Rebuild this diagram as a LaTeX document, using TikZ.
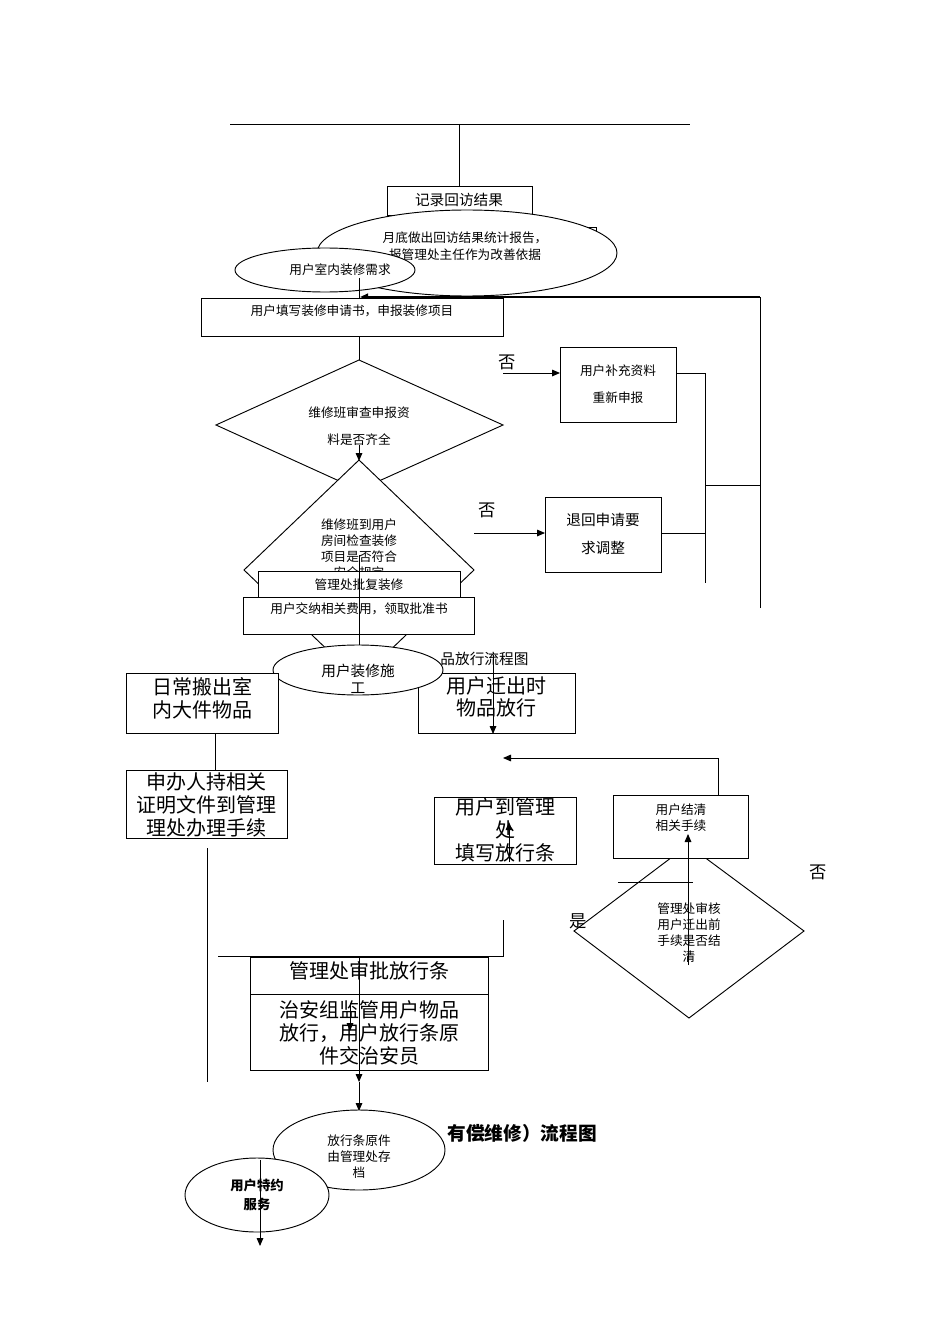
\documentclass[tikz,border=0pt]{standalone}
\usepackage{fontspec}
\setmainfont{Noto Sans CJK SC}
\usetikzlibrary{arrows.meta}
\begin{document}
\begin{tikzpicture}[x=0.75pt,y=-0.75pt,line width=0.7pt,
  sm/.style={font=\fontsize{9.5}{12}\selectfont,align=center,inner sep=0pt},
  lg/.style={font=\fontsize{15}{17}\selectfont,align=center,inner sep=0pt},
  arr/.style={-{Triangle[length=6pt,width=5pt]}}]
\useasboundingbox (0,0) rectangle (950,1344);
% top
\coordinate (t1) at (230,124); \coordinate (t2) at (690,124);
\draw (t1) -- (t2);
\coordinate (tm) at (459,124);
\draw (tm) -- (459,186);
\draw (580,227) -- (596,227) -- (596,240);
\draw[fill=white] (387,186) rectangle (532,215);
\node[sm,font=\fontsize{11}{13}\selectfont] (rec) at (459,200) {记录回访结果};
\draw[fill=white] (467,253) ellipse [x radius=150,y radius=43];
\node[sm] (rep) at (465,238) {月底做出回访结果统计报告，};
\node[sm] (rep2) at (465,255) {报管理处主任作为改善依据};
\draw[fill=white] (325,270) ellipse [x radius=90,y radius=22];
\node[sm] (need) at (340,270) {用户室内装修需求};
\draw (359,278) -- (359,298);
% right loop
\coordinate (r1) at (760,297); \coordinate (r2) at (760,608);
\draw (r2) -- (r1);
\draw[arr,line width=1.4pt] (r1) -- (360,297);
\draw[fill=white] (201,298) rectangle (503,336);
\node[sm] (fill) at (352,311) {用户填写装修申请书，申报装修项目};
\draw (359,336) -- (359,360);
% diamond 1
\draw[fill=white] (359,360) -- (503,425) -- (359,490) -- (216,425) -- cycle;
\node[sm] (d1) at (359,426) {维修班审查申报资\\[8pt]料是否齐全};
% diamond 2
\draw[fill=white] (359,460) -- (474,570) -- (359,680) -- (244,570) -- cycle;
\draw[arr] (359,445) -- (359,461);
\node[sm,align=center] (d2) at (359,549) {维修班到用户\\房间检查装修\\项目是否符合\\安全规定};
% no branch 1
\node[font=\fontsize{13}{15}\selectfont,inner sep=0pt] (no1) at (507,362) {否};
\coordinate (n1) at (503,373);
\draw[fill=white] (560,347) rectangle (676,422);
\node[sm] (sup) at (618,384) {用户补充资料\\[8pt]重新申报};
\draw[arr] (n1) -- (560,373);
\draw (676,373) -- (705,373) -- (705,583);
\draw (705,485) -- (760,485);
% no branch 2
\node[font=\fontsize{13}{15}\selectfont,inner sep=0pt] (no2) at (487,510) {否};
\coordinate (n2) at (474,533);
\draw[fill=white] (545,497) rectangle (661,572);
\node[sm,font=\fontsize{11}{13}\selectfont] (ret) at (603,534) {退回申请要\\[8pt]求调整};
\draw[arr] (n2) -- (545,533);
\draw (661,533) -- (705,533);
% approval boxes
\draw[fill=white] (258,571) rectangle (460,598);
\node[sm] (appr) at (359,585) {管理处批复装修};
\draw[fill=white] (243,597) rectangle (474,634);
\node[sm] (pay) at (359,609) {用户交纳相关费用，领取批准书};
\draw (359,555) -- (359,648);
% release title
\node[sm,font=\fontsize{11}{13}\selectfont,anchor=west] (rt) at (440,659) {品放行流程图};
\draw[fill=white] (418,673) rectangle (575,733);
\node[lg] (move) at (496,697) {用户迁出时\\物品放行};
\draw[fill=white] (358,670) ellipse [x radius=85,y radius=25];
\node[sm,font=\fontsize{11}{13}\selectfont] (work) at (358,679) {用户装修施\\工};
\draw[arr] (493,655) -- (493,734);
\draw[fill=white] (126,673) rectangle (278,733);
\node[lg] (daily) at (202,698) {日常搬出室\\内大件物品};
\draw (215,733) -- (215,770);
\draw[fill=white] (126,770) rectangle (287,838);
\node[lg] (appl) at (206,805) {申办人持相关\\证明文件到管理\\理处办理手续};
\draw (207,848) -- (207,1082);
% right part
\draw[fill=white] (434,797) rectangle (576,864);
\node[lg] (tofill) at (505,830) {用户到管理\\处\\填写放行条};
\draw[arr] (509,862) -- (509,822);
\draw[fill=white] (574,931) -- (688,845) -- (804,931) -- (689,1018) -- cycle;
\node[sm] (d3) at (689,933) {管理处审核\\用户迁出前\\手续是否结\\清};
\draw[fill=white] (613,795) rectangle (748,858);
\node[sm] (settle) at (681,818) {用户结清\\相关手续};
\draw[arr] (688,965) -- (688,834);
\draw (618,882) -- (693,882);
\draw[arr] (718,795) -- (718,758) -- (503,758);
\node[font=\fontsize{13}{15}\selectfont,inner sep=0pt] (yes) at (578,921) {是};
\node[font=\fontsize{13}{15}\selectfont,inner sep=0pt] (no3) at (818,872) {否};
% bottom
\draw (503,920) -- (503,956) -- (218,956);
\draw[fill=white] (250,957) rectangle (488,994);
\node[lg] (aprv) at (369,971) {管理处审批放行条};
\draw[fill=white] (250,994) rectangle (488,1070);
\node[lg] (sec) at (369,1033) {治安组监管用户物品\\放行，用户放行条原\\件交治安员};
\draw[arr] (350,1003) -- (350,1031);
\draw[arr] (359,957) -- (359,1082);
\draw[arr] (359,1082) -- (359,1111);
\node[font=\fontsize{14}{16}\selectfont\bfseries,anchor=west,inner sep=0pt] (pt) at (447,1133) {有偿维修）流程图};
\draw[fill=white] (359,1150) ellipse [x radius=86,y radius=40];
\node[sm] (arch) at (359,1157) {放行条原件\\由管理处存\\档};
\draw[fill=white] (257,1195) ellipse [x radius=72,y radius=37];
\node[sm,font=\fontsize{10}{14}\selectfont\bfseries] (spec) at (257,1195) {用户特约\\服务};
\draw[arr] (260,1160) -- (260,1246);
\end{tikzpicture}
\end{document}
